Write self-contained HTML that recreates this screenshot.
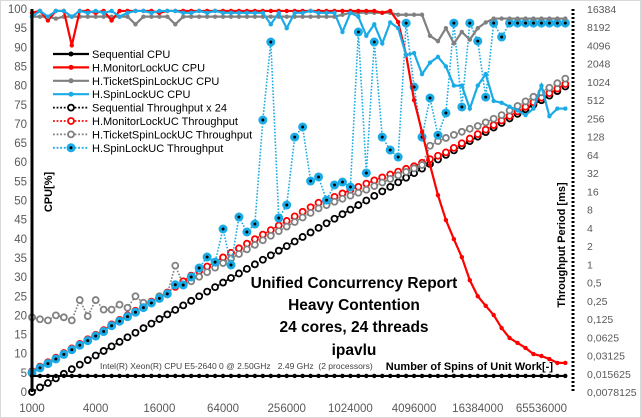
<!DOCTYPE html>
<html><head><meta charset="utf-8">
<style>
html,body{margin:0;padding:0;background:#fff;}
body{width:641px;height:418px;overflow:hidden;}
svg{display:block;font-family:"Liberation Sans",sans-serif;}
</style></head>
<body>
<svg id="chart" width="641" height="418" viewBox="0 0 641 418">
<rect x="0.5" y="0.5" width="640" height="417" fill="#fff" stroke="#d9d9d9"/>
<g id="grid"></g>
<g id="series"></g>
<g id="axes"></g>
<g id="legend"></g>
<g font-weight="bold" font-size="15.5" text-anchor="middle" fill="#000">
<text x="354" y="288">Unified Concurrency Report</text>
<text x="354" y="310">Heavy Contention</text>
<text x="354" y="332">24 cores, 24 threads</text>
<text x="354" y="355">ipavlu</text>
</g>
<text x="100" y="369" font-size="8.5" fill="#404040">Intel(R) Xeon(R) CPU E5-2640 0 @ 2.50GHz&#160;&#160; 2.49 GHz&#160; (2 processors)</text>
<text x="553" y="370" font-size="11" font-weight="bold" text-anchor="end">Number of Spins of Unit Work[-]</text>
<text transform="translate(52,192) rotate(-90)" font-size="11" font-weight="bold" text-anchor="middle">CPU[%]</text>
<text transform="translate(565,245) rotate(-90)" font-size="11" font-weight="bold" text-anchor="middle">Throughput Period [ms]</text>
</svg>
<script>
const xTickLabels = ["1000","4000","16000","64000","256000","1024000","4096000","16384000","65536000"];
const leftTicks = [0,5,10,15,20,25,30,35,40,45,50,55,60,65,70,75,80,85,90,95,100];
const rightTickLabels = ["0,0078125","0,015625","0,03125","0,0625","0,125","0,25","0,5","1","2","4","8","16","32","64","128","256","512","1024","2048","4096","8192","16384"];
const rightTicks = [0.0078125,0.015625,0.03125,0.0625,0.125,0.25,0.5,1,2,4,8,16,32,64,128,256,512,1024,2048,4096,8192,16384];

const seqCpu = [4.2,4.2,4.2,4.2,4.2,4.2,4.2,4.2,4.2,4.2,4.2,4.2,4.2,4.2,4.2,4.2,4.2,4.2,4.2,4.2,4.2,4.2,4.2,4.2,4.2,4.2,4.2,4.2,4.2,4.2,4.2,4.2,4.2,4.2,4.2,4.2,4.2,4.2,4.2,4.2,4.2,4.2,4.2,4.2,4.2,4.2,4.2,4.2,4.2,4.2,4.2,4.2,4.2,4.2,4.2,4.2,4.2,4.2,4.2,4.2,4.2,4.2,4.2,4.2,4.2,4.2,4.2,4.2];
const monitorCpu = [99,99.5,97,99.5,99.5,90.5,99.5,99.5,99,99.5,97,99.5,99.5,99.5,99.5,99.5,99,99.5,99.5,99.5,99.5,99.5,99.5,99.5,99.5,99.5,99.5,99.5,99.5,99.5,99.5,99.5,99.5,99.5,99.5,99.5,99.5,99.5,99.5,99.5,99.5,99.5,99.5,99.5,99,99.5,96.6,88,76.2,67.9,59.3,51.4,44.9,39.9,35.2,29.2,25,22.5,20.1,16.7,14.1,12.8,11.5,9.9,9.4,8.6,7.6,7.6];
const ticketCpu = [98,98,98,97.5,98,98,98,98,98,98,98,98,98,96,98,98,98,98,96,98,98,98,98,98,98,98,98,98,98,98,98,98,98,98,98,98,98,98,98,98.5,99,99,99,99,99,99,98.5,98.5,98.5,98.5,93,91.6,95,91,94,92,95,96.5,97.5,97.5,97.5,97.5,97.5,97.5,97.5,97.5,97.5,97.5];
const spinCpu = [98,99.5,98,99.5,99.5,98,99.5,99,99.5,99,99.5,98,99,99.5,99.5,99,99.5,99.5,99.5,99,99,99.5,99,99.5,99,99,99,99,99,99,96,99,95,99,99,99.5,99,99,99,94,99,98,93,96,91,96.5,95,88,88.5,83,86,87.5,85,80,80,74,80,83,76,75.5,74.5,73.5,72.3,74,80,72,74,74];

const seqThr = [0.0078,0.0093,0.011,0.0131,0.0156,0.0186,0.0221,0.0263,0.0313,0.0372,0.0442,0.0526,0.0625,0.0743,0.0884,0.105,0.125,0.149,0.177,0.21,0.25,0.297,0.354,0.42,0.5,0.595,0.707,0.841,1,1.19,1.41,1.68,2,2.38,2.83,3.36,4,4.76,5.66,6.73,8,9.51,11.3,13.5,16,19,22.6,26.9,32,38,45.3,53.8,64,76,90.5,108,128,152,181,215,256,304,362,431,512,609,724,861];
const monitorThr = [0.0172,0.0205,0.0242,0.0288,0.0343,0.041,0.0486,0.0579,0.0689,0.0818,0.102,0.121,0.144,0.171,0.203,0.242,0.288,0.343,0.425,0.525,0.65,0.772,0.92,1.09,1.3,1.55,1.84,2.19,2.6,3.09,3.67,4.37,5.2,6.19,7.36,8.74,10.4,11.4,13,14.8,16.8,19,21.5,24.3,27.2,30.4,33.9,37.7,41.6,47.5,54.4,61.9,70.4,83.6,99.6,119,141,167,199,237,282,334,398,474,563,670,796,947];
const ticketThr = [0.1335,0.124,0.119,0.1436,0.1335,0.119,0.257,0.1395,0.257,0.179,0.179,0.216,0.192,0.297,0.232,0.232,0.297,0.324,0.953,0.46,0.525,0.624,0.743,0.882,1.05,1.25,1.48,1.77,2.1,2.5,2.96,3.53,4.2,5,5.94,7.06,8.4,9.5,10.8,12.1,13.6,15.2,17,19.6,22.4,25.7,29.4,33.6,38.4,43.7,90.6,108,122,137,154,173,192,220,253,290,346,410,489,582,691,822,977,1162];
const spinThr = [0.0163,0.0195,0.023,0.0274,0.0326,0.039,0.0462,0.055,0.0655,0.0777,0.097,0.115,0.137,0.162,0.193,0.23,0.274,0.326,0.46,0.456,0.618,0.869,1.32,1.09,3.83,0.975,6.04,3.42,4.63,241,4670,5.81,9.53,126,185,23.7,27.7,11.5,20.4,22.8,18.9,6830,32.2,4670,126,77,59,9600,845,126,556,136,315,9600,396,9600,4840,576,9600,5640,9600,9600,9600,9600,9600,9600,9600,9600];

const NS = "http://www.w3.org/2000/svg";
const X0 = 32, XSTEP = 7.96, YB = 392, YT = 9;
const xPos = i => X0 + i * XSTEP;
const yLeft = v => YB - (v / 100) * (YB - YT);
const yRight = v => YB - (Math.log2(v) + 7) * ((YB - YT) / 21);
function mk(tag, attrs, parent) {
  const e = document.createElementNS(NS, tag);
  for (const k in attrs) e.setAttribute(k, attrs[k]);
  parent.appendChild(e);
  return e;
}
const axes = document.getElementById("axes");
const ser = document.getElementById("series");

leftTicks.forEach(v => {
  const t = mk("text", {x: 27, y: yLeft(v) + 4, "font-size": 11.5, fill: "#595959", "text-anchor": "end"}, axes);
  
  
  t.textContent = v;
});
rightTicks.forEach((v, k) => {
  const t = mk("text", {x: 587, y: yRight(v) + 4, "font-size": 10.5, fill: "#595959"}, axes);
  
  
  t.textContent = rightTickLabels[k];
});
xTickLabels.forEach((s, k) => {
  const t = mk("text", {x: xPos(k * 8), y: 412, "font-size": 11.5, fill: "#595959", "text-anchor": "middle"}, axes);
  
  
  t.textContent = s;
});
const la = mk("line", {x1: 32, y1: YT, x2: 32, y2: YB, stroke: "#000", "stroke-width": 3}, axes);


const ra = mk("line", {x1: 573, y1: YT, x2: 573, y2: YB, stroke: "#000", "stroke-width": 3, "stroke-dasharray": "2 2"}, axes);



function drawCpu(arr, color, name) {
  const g = mk("g", {}, ser);
  
  
  const pts = arr.map((v, i) => xPos(i) + "," + yLeft(v)).join(" ");
  mk("polyline", {points: pts, fill: "none", stroke: color, "stroke-width": 2.2}, g);
  arr.forEach((v, i) => {
    const c = mk("circle", {cx: xPos(i), cy: yLeft(v), r: 2.2, fill: color}, g);
    
    
  });
}
function drawThr(arr, color, name, spin) {
  const g = mk("g", {}, ser);
  
  
  const pts = arr.map((v, i) => xPos(i) + "," + yRight(v)).join(" ");
  mk("polyline", {points: pts, fill: "none", stroke: color, "stroke-width": 1.6, "stroke-dasharray": "1.6 1.6"}, g);
  arr.forEach((v, i) => {
    if (spin) {
      const c = mk("circle", {cx: xPos(i), cy: yRight(v), r: 4.5, fill: color}, g);
      
      
      mk("circle", {cx: xPos(i), cy: yRight(v), r: 1.5, fill: "#000"}, g);
    } else {
      const c = mk("circle", {cx: xPos(i), cy: yRight(v), r: 3, fill: "#fff", stroke: color, "stroke-width": 1.8}, g);
      
      
    }
  });
}
drawThr(seqThr, "#000", "sequential-throughput", false);
drawThr(monitorThr, "#ff0000", "monitor-throughput", false);
drawThr(ticketThr, "#808080", "ticket-throughput", false);
drawThr(spinThr, "#1aabe6", "spin-throughput", true);
drawCpu(seqCpu, "#000", "sequential-cpu");
drawCpu(ticketCpu, "#808080", "ticket-cpu");
drawCpu(monitorCpu, "#ff0000", "monitor-cpu");
drawCpu(spinCpu, "#1aabe6", "spin-cpu");

const legNames = ["Sequential CPU","H.MonitorLockUC CPU","H.TicketSpinLockUC CPU","H.SpinLockUC CPU","Sequential Throughput x 24","H.MonitorLockUC Throughput","H.TicketSpinLockUC Throughput","H.SpinLockUC Throughput"];
const legColors = ["#000","#ff0000","#808080","#1aabe6","#000","#ff0000","#808080","#1aabe6"];
const leg = document.getElementById("legend");
legNames.forEach((n, k) => {
  const y = 54 + k * 13.4;
  const g = mk("g", {}, leg);
  
  
  const thr = k >= 4;
  mk("line", {x1: 53, y1: y, x2: 89, y2: y, stroke: legColors[k], "stroke-width": thr ? 1.8 : 2.2, "stroke-dasharray": thr ? "1.8 1.8" : "none"}, g);
  if (k === 7) {
    mk("circle", {cx: 71, cy: y, r: 4.5, fill: legColors[k]}, g);
    mk("circle", {cx: 71, cy: y, r: 1.5, fill: "#000"}, g);
  } else if (thr) {
    mk("circle", {cx: 71, cy: y, r: 3, fill: "#fff", stroke: legColors[k], "stroke-width": 1.8}, g);
  } else {
    mk("circle", {cx: 71, cy: y, r: 2.5, fill: legColors[k]}, g);
  }
  const t = mk("text", {x: 92, y: y + 4, "font-size": 11, fill: "#000"}, g);
  t.textContent = n;
});
</script>
</body></html>
